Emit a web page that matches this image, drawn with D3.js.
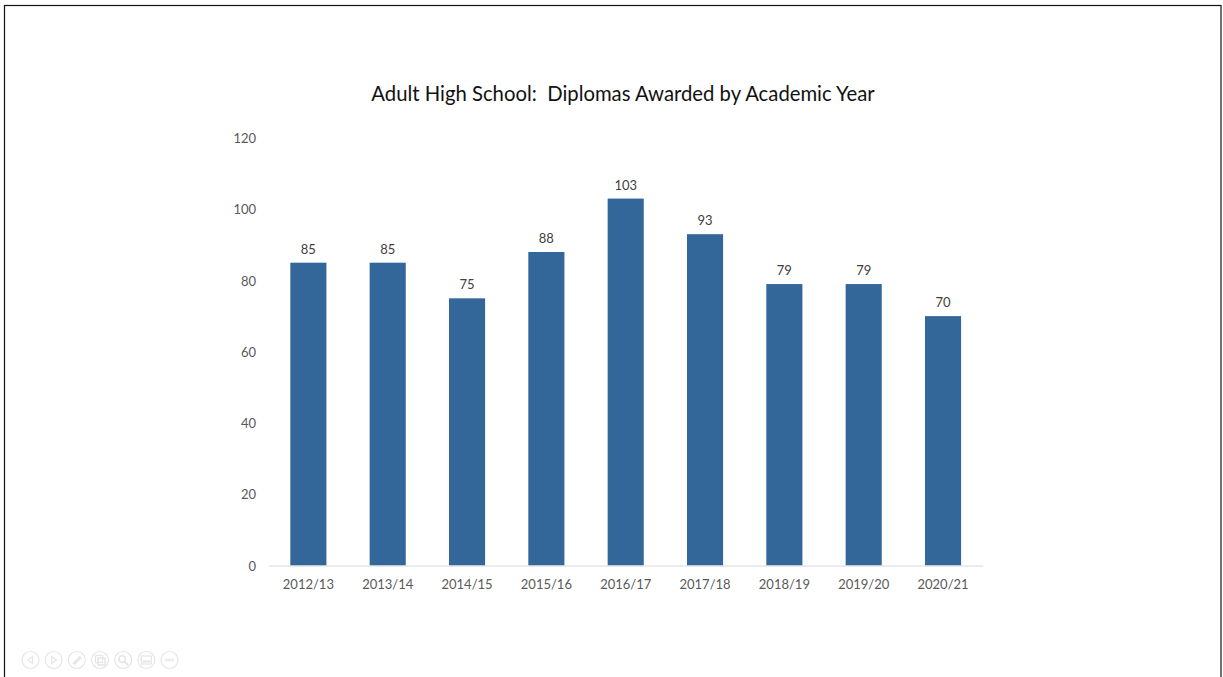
<!DOCTYPE html>
<html>
<head>
<meta charset="utf-8">
<script src="https://cdn.jsdelivr.net/npm/d3@7"></script>
<style>
html,body{margin:0;padding:0;background:#fff;overflow:hidden}
svg{display:block}
text{font-family:Lato,"Open Sans",sans-serif}
</style>
</head>
<body>
<svg id="chart" width="1223" height="677"></svg>
<script>
const years = ["2012/13","2013/14","2014/15","2015/16","2016/17","2017/18","2018/19","2019/20","2020/21"];
const diplomas = [85,85,75,88,103,93,79,79,70];
const yTicks = [0,20,40,60,80,100,120];
const titleText = "Adult High School:  Diplomas Awarded by Academic Year";

const svg = d3.select("#chart");

// slide frame
svg.append("rect").attr("x",4.5).attr("y",5.5).attr("width",1216.5).attr("height",680)
  .attr("fill","#fff").attr("stroke","#111").attr("stroke-width",1.2);

const x = d3.scaleBand().domain(years).range([268.7,982.7]).paddingInner(0.545).paddingOuter(0.2725);
const y = d3.scaleLinear().domain([0,120]).range([565.5,138]);

svg.append("text").attr("x",623).attr("y",101).attr("text-anchor","middle")
  .attr("font-size",20.3).attr("fill","#111").attr("xml:space","preserve")
  .style("white-space","pre").text(titleText);

svg.selectAll("rect.bar").data(diplomas).join("rect").attr("class","bar")
  .attr("x",(d,i)=>x(years[i])).attr("y",d=>y(d))
  .attr("width",x.bandwidth()).attr("height",d=>y(0)-y(d))
  .attr("fill","#336699");

svg.selectAll("text.val").data(diplomas).join("text").attr("class","val")
  .attr("x",(d,i)=>x(years[i])+x.bandwidth()/2).attr("y",d=>y(d)-9)
  .attr("text-anchor","middle").attr("font-size",13).attr("fill","#404040").text(d=>d);

// category axis: baseline and labels only
const xAxis = d3.axisBottom(x).tickSize(0).tickPadding(14);
const gx = svg.append("g").attr("transform",`translate(0,${y(0)})`).call(xAxis);
gx.select(".domain").attr("stroke","#d9d9d9").attr("stroke-width",1.2);
gx.selectAll("text").attr("font-size",13).attr("fill","#595959").style("font-family","Lato");

// value axis: labels only
const yAxis = d3.axisLeft(y).tickValues(yTicks).tickSize(0).tickPadding(13);
const gy = svg.append("g").attr("transform","translate(269,0.4)").call(yAxis);
gy.select(".domain").remove();
gy.selectAll("text").attr("font-size",13).attr("fill","#595959").style("font-family","Lato");

// slide-show controls, bottom left
const controls = ["prev","next","pen","pages","zoom","screen","more"];
const ctrl = svg.append("g").attr("fill","none").attr("stroke","#e6e6e6").attr("stroke-width",1.2);
const cx = d3.scalePoint().domain(controls).range([30.5,169.5]);
controls.forEach(name=>{
  const g = ctrl.append("g").attr("transform",`translate(${cx(name)},660)`);
  g.append("circle").attr("r",8.5);
  if(name==="prev") g.append("path").attr("d","M2,-3.5L-2.5,0L2,3.5Z");
  if(name==="next") g.append("path").attr("d","M-2,-3.5L2.5,0L-2,3.5Z");
  if(name==="pen") g.append("path").attr("d","M-4,4L3.5,-4M-2.5,4.5L4.5,-2.5").attr("stroke-width",1.5);
  if(name==="pages"){
    g.append("rect").attr("x",-4.5).attr("y",-4.5).attr("width",7).attr("height",7);
    g.append("rect").attr("x",-2).attr("y",-2).attr("width",7).attr("height",7).attr("stroke-width",1.6);
  }
  if(name==="zoom"){
    g.append("circle").attr("cx",-1).attr("cy",-1).attr("r",3.2).attr("stroke-width",1.6);
    g.append("path").attr("d","M1.5,1.5L5,5").attr("stroke-width",1.8);
  }
  if(name==="screen"){
    g.append("rect").attr("x",-5).attr("y",-4).attr("width",10).attr("height",8);
    g.append("path").attr("d","M-4,1.5H4").attr("stroke-width",2.2);
  }
  if(name==="more") [-3,0,3].forEach(o=>g.append("circle").attr("cx",o).attr("r",0.8));
});
</script>
</body>
</html>
